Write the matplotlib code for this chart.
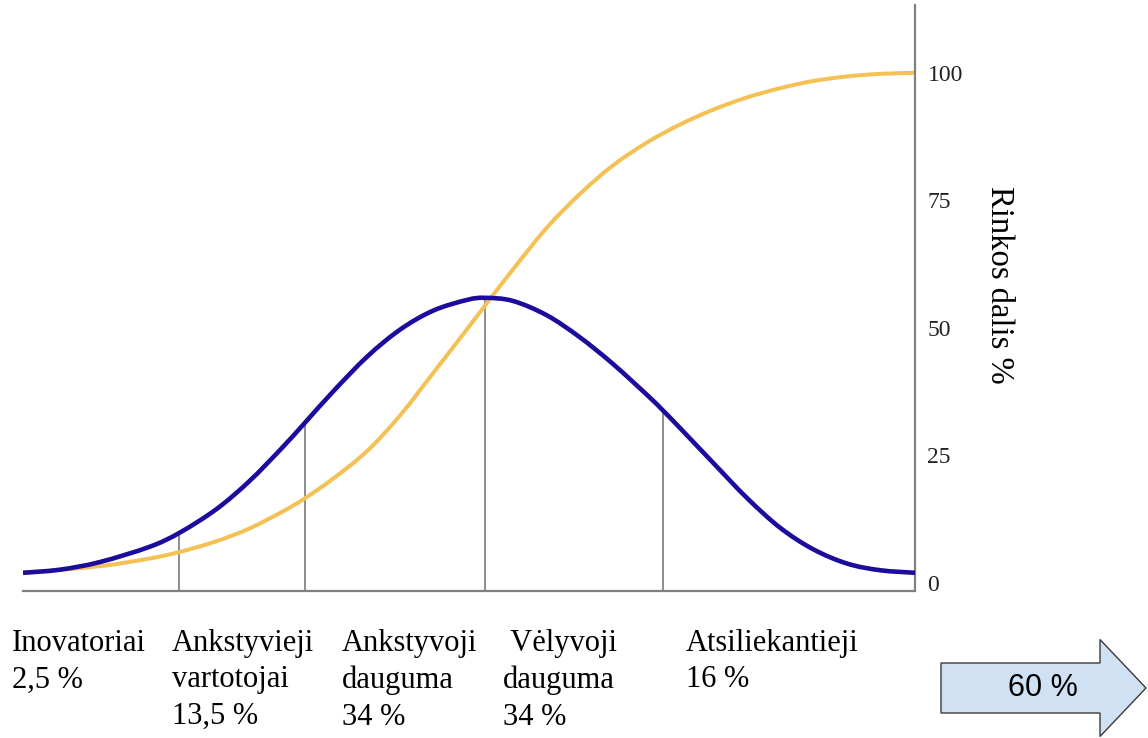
import matplotlib.pyplot as plt
from matplotlib.patches import FancyArrow, PathPatch
from matplotlib.path import Path

# curve values (x: 0 = left end, 100 = right axis)
blue_x = [0, 4.1, 8.6, 14.2, 17.6, 21.7, 25.4, 29.1, 31.6, 34.8, 38.6, 42.3, 46.0, 49.8,
          51.8, 54.9, 58.7, 62.4, 66.1, 70.0, 71.7, 73.7, 77.4, 81.2, 84.9, 88.6, 92.4, 96.1, 100]
blue_y = [2.0, 2.6, 4.1, 7.1, 9.9, 14.5, 20.0, 26.6, 31.4, 37.6, 44.4, 49.7, 53.4, 55.5,
          55.9, 55.3, 52.5, 48.2, 43.0, 36.8, 33.9, 30.3, 23.5, 16.6, 10.8, 6.6, 3.8, 2.5, 2.0]

orange_x = [0, 8.6, 14.2, 17.6, 21.7, 25.4, 29.1, 31.6, 34.8, 38.6, 42.3, 46.0, 49.8, 51.8,
            54.9, 58.7, 62.4, 66.1, 70.0, 73.7, 77.4, 81.2, 84.9, 88.6, 92.4, 96.1, 100]
orange_y = [2.0, 3.3, 4.8, 6.1, 8.2, 10.7, 14.0, 16.6, 20.5, 25.9, 32.9, 41.2, 49.8, 54.4,
            61.4, 69.6, 76.2, 81.8, 86.4, 89.9, 92.8, 95.2, 97.0, 98.4, 99.3, 99.8, 100]

# vertical dividers: position and height (where they meet the bell curve)
cut_x = [17.5, 31.6, 51.8, 71.7]
cut_top = [9.9, 31.4, 55.9, 33.9]

y_ticks = [0, 25, 50, 75, 100]

groups = ["Inovatoriai", "Ankstyvieji\nvartotojai", "Ankstyvoji\ndauguma", " Vėlyvoji\ndauguma", "Atsiliekantieji"]
shares = ["2,5 %", "13,5 %", "34 %", "34 %", "16 %"]
arrow_text = "60 %"

serif = "Liberation Serif"


def smooth_line(ax, xs, ys, **kw):
    # draw the read points as one smooth bezier path (catmull-rom style)
    pts = list(zip(xs, ys))
    verts = [pts[0]]
    codes = [Path.MOVETO]
    for i in range(len(pts) - 1):
        p0 = pts[max(i - 1, 0)]
        p1 = pts[i]
        p2 = pts[i + 1]
        p3 = pts[min(i + 2, len(pts) - 1)]
        c1 = (p1[0] + (p2[0] - p0[0]) / 6, p1[1] + (p2[1] - p0[1]) / 6)
        c2 = (p2[0] - (p3[0] - p1[0]) / 6, p2[1] - (p3[1] - p1[1]) / 6)
        verts += [c1, c2, p2]
        codes += [Path.CURVE4] * 3
    ax.add_patch(PathPatch(Path(verts, codes), fill=False, **kw))


fig = plt.figure(figsize=(11.48, 7.38), dpi=100)
ax = fig.add_axes([23 / 1148, 1 - 591 / 738, 892 / 1148, 586 / 738])

ymin, ymax = -1.57, 113.3
ax.set_xlim(0, 100)
ax.set_ylim(ymin, ymax)

for cx, ct in zip(cut_x, cut_top):
    ax.plot([cx, cx], [ymin, ct], color="#8c8c8c", lw=1.4, zorder=1)

smooth_line(ax, orange_x, orange_y, edgecolor="#f4c155", lw=2.9, capstyle="butt", zorder=2)
smooth_line(ax, blue_x, blue_y, edgecolor="#1c0c9e", lw=3.3, capstyle="butt", zorder=3)

for side in ["left", "top"]:
    ax.spines[side].set_visible(False)
for side in ["right", "bottom"]:
    ax.spines[side].set_color("#808080")
    ax.spines[side].set_linewidth(1.6)

ax.set_xticks([])
ax.yaxis.tick_right()
ax.set_yticks(y_ticks)
ax.set_yticklabels([str(t) for t in y_ticks], fontfamily=serif, fontsize=17, color="#222222")
ax.tick_params(axis="y", length=0, pad=9)

fig.text(999 / 1148, 1 - 285 / 738, "Rinkos dalis %", rotation=270, ha="center", va="center",
         fontsize=23.5, family=serif)

# group labels under the chart
label_px = [12, 172, 342, 503, 686]
for px, g, s in zip(label_px, groups, shares):
    fig.text(px / 1148, 1 - 629 / 738, g + "\n" + s, ha="left", va="top",
             fontsize=22, family=serif, linespacing=1.34)

# the arrow on the lower right
arr = FancyArrow(9.41, 0.50, 2.05, 0, width=0.50, head_width=0.97, head_length=0.46,
                 length_includes_head=True, transform=fig.dpi_scale_trans,
                 facecolor="#cfe1f3", edgecolor="#3a3a3a", lw=1.0)
fig.patches.append(arr)
fig.text(1043 / 1148, 50 / 738, arrow_text, ha="center", va="center",
         fontsize=22, family="Liberation Sans")

fig.savefig("out.png", dpi=100)
